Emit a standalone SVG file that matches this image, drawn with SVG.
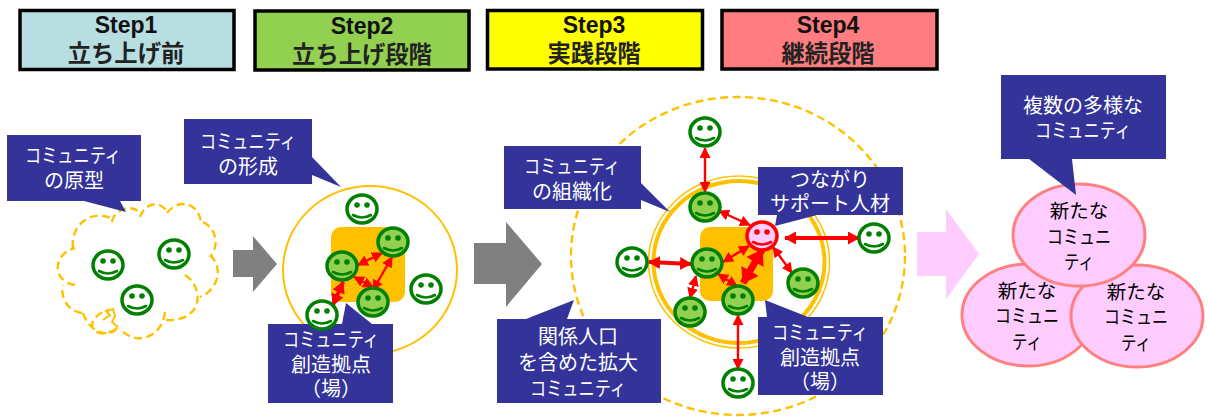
<svg xmlns="http://www.w3.org/2000/svg" xmlns:xlink="http://www.w3.org/1999/xlink" width="1208" height="417" viewBox="0 0 1208 417">
<style>
text{font-family:"Noto Sans CJK JP","Liberation Sans",sans-serif;text-anchor:middle}
.step{stroke:#000;stroke-width:3.5}
.st1{font-family:"Liberation Sans",Arial,sans-serif;font-weight:700;font-size:23px;fill:#111}
.st2{font-size:23.3px;font-weight:700;fill:#222}
.call{fill:#333399}
.ct{fill:#fff;font-size:20px}
.et{fill:#000;font-size:19.5px}
.ell{fill:#FFCCFF;stroke:#FF8080;stroke-width:3}
.dash{fill:none;stroke:#FFC000;stroke-width:2.4;stroke-dasharray:8 4.5}
.a{stroke:#FF0000;stroke-width:2.4;fill:none;marker-start:url(#ah);marker-end:url(#ah)}
.f{stroke:#FF0000;stroke-width:4;fill:none;marker-start:url(#af);marker-end:url(#af)}
.g{stroke:#FF0000;stroke-width:7;fill:none;marker-start:url(#ag);marker-end:url(#ag)}
</style>
<defs>
<marker id="ah" markerUnits="userSpaceOnUse" markerWidth="11" markerHeight="11" refX="10" refY="5.500" orient="auto-start-reverse"><path d="M0 0L11 5.500L0 11Z" fill="#FF0000"/></marker>
<marker id="af" markerUnits="userSpaceOnUse" markerWidth="12" markerHeight="13" refX="11" refY="6.500" orient="auto-start-reverse"><path d="M0 0L12 6.500L0 13Z" fill="#FF0000"/></marker>
<marker id="ag" markerUnits="userSpaceOnUse" markerWidth="15" markerHeight="20" refX="14" refY="10" orient="auto-start-reverse"><path d="M0 0L15 10L0 20Z" fill="#FF0000"/></marker>
<g id="face">
<ellipse rx="15" ry="14" stroke="#008000" stroke-width="3.500"/>
<circle cx="-5" cy="-4" r="2.800" fill="#008000"/><circle cx="5" cy="-4" r="2.800" fill="#008000"/>
<path d="M-9 6Q0 11 9 6" fill="none" stroke="#008000" stroke-width="2.600" stroke-linecap="round"/>
</g>
</defs>
<rect width="1208" height="417" fill="#fff"/>

<g id="step1"><rect class="step" x="20" y="10.500" width="214" height="59" fill="#B7DEE1"/><text class="st1" x="126" y="33">Step1</text><text class="st2" x="126" y="62">立ち上げ前</text></g>
<g id="step2"><rect class="step" x="255" y="11" width="214" height="59" fill="#92D050"/><text class="st1" x="362" y="34">Step2</text><text class="st2" x="362" y="63">立ち上げ段階</text></g>
<g id="step3"><rect class="step" x="487.500" y="10.500" width="215" height="58.500" fill="#FFFF00"/><text class="st1" x="594" y="33">Step3</text><text class="st2" x="594" y="62">実践段階</text></g>
<g id="step4"><rect class="step" x="722" y="10.500" width="215" height="58.500" fill="#FF7C80"/><text class="st1" x="828" y="33">Step4</text><text class="st2" x="828" y="62">継続段階</text></g>

<g id="cloud">
<path class="dash" d="M73 248C70 225 92 208 113 219M112 222C114 208 134 203 142 215M140 217C145 203 160 199 168 213M167 213C178 198 199 202 201 223M203 222C216 228 220 245 210 257M210 255C224 268 218 290 200 297M185 275C205 288 203 322 166 320M165 312C162 340 132 346 120 328M83 313C88 332 112 340 117 327C122 325 104 340 94 330C88 322 98 312 110 310M82 313C68 311 60 298 63 285M75 285C52 282 52 254 75 248"/>
<path d="M103 320L110 315L106 311L113 309L115 316L112 322L118 327" fill="none" stroke="#FFC000" stroke-width="2"/>
</g>
<g id="arrow-gray1"><path d="M233 250H253V236L277 264L253 292V277H233Z" fill="#808080"/></g>
<g id="ring1"><ellipse cx="370" cy="270" rx="87" ry="84" fill="none" stroke="#FFC000" stroke-width="2"/><rect x="331" y="227" width="74" height="75" rx="10" fill="#FFC000"/></g>
<g id="arrow-gray2"><path d="M474 243H506V222L542 264L506 307V284H474Z" fill="#808080"/></g>
<g id="ring3"><ellipse class="dash" cx="738" cy="256" rx="167" ry="159"/>
<ellipse cx="739" cy="262" rx="90.500" ry="86" fill="none" stroke="#FFC000" stroke-width="1.500"/>
<ellipse cx="739" cy="262" rx="85.500" ry="81" fill="none" stroke="#FFC000" stroke-width="4"/>
<rect x="700" y="227" width="73" height="74" rx="10" fill="#FFC000"/></g>
<g id="arrow-pink"><path d="M917 232H946V209L979 254L946 299V276H917Z" fill="#FFCCFF"/></g>

<g id="connectors">
<line class="a" x1="358" y1="265" x2="382" y2="253"/>
<line class="a" x1="392" y1="257" x2="373" y2="290"/>
<line class="a" x1="354" y1="277" x2="373" y2="287"/>
<line class="f" x1="333" y1="305" x2="343" y2="282"/>
<line class="a" x1="705" y1="148" x2="705" y2="192"/>
<line class="a" x1="719" y1="211" x2="750" y2="225"/>
<line class="f" x1="785" y1="238" x2="859" y2="238"/>
<line class="f" x1="649" y1="262" x2="691" y2="264"/>
<line class="a" x1="723" y1="262" x2="749" y2="246"/>
<line class="g" x1="762" y1="250" x2="743" y2="283"/>
<line class="a" x1="718" y1="274" x2="737" y2="286"/>
<line class="a" x1="773" y1="247" x2="792" y2="273"/>
<line class="a" x1="696" y1="276" x2="690" y2="298"/>
<line class="a" x1="738" y1="315" x2="738" y2="369"/>
</g>

<g id="faces-white" fill="#fff">
<use xlink:href="#face" x="108" y="265"/><use xlink:href="#face" x="174" y="254"/><use xlink:href="#face" x="137" y="300"/>
<use xlink:href="#face" x="362" y="209"/><use xlink:href="#face" x="426" y="289"/>
<use xlink:href="#face" x="705" y="132"/><use xlink:href="#face" x="874" y="238"/><use xlink:href="#face" x="632" y="262"/><use xlink:href="#face" x="738" y="383"/>
</g>
<g id="faces-green" fill="#92D050">
<use xlink:href="#face" x="393" y="242"/><use xlink:href="#face" x="342" y="266"/><use xlink:href="#face" x="373" y="302"/>
<use xlink:href="#face" x="705" y="207"/><use xlink:href="#face" x="707" y="263"/><use xlink:href="#face" x="803" y="283"/><use xlink:href="#face" x="738" y="300"/><use xlink:href="#face" x="690" y="312"/>
</g>
<g id="face-pink"><ellipse cx="762" cy="236" rx="15" ry="14" fill="#FFCCFF" stroke="#FF0000" stroke-width="3.500"/><circle cx="757" cy="232" r="2.800" fill="#FF0000"/><circle cx="767" cy="232" r="2.800" fill="#FF0000"/><path d="M753 242Q762 247 771 242" fill="none" stroke="#FF0000" stroke-width="2.600" stroke-linecap="round"/></g>

<g id="callout1"><path class="call" d="M7 135H141V201H120L126 212L84 201H7Z"/><text class="ct" x="73" y="163" textLength="96" lengthAdjust="spacingAndGlyphs">コミュニティ</text><text class="ct" x="74" y="188">の原型</text></g>
<g id="callout2"><path class="call" d="M184 119H312V157L341 187L312 175V184H184Z"/><text class="ct" x="248" y="149" textLength="96" lengthAdjust="spacingAndGlyphs">コミュニティ</text><text class="ct" x="248" y="174">の形成</text></g>
<g id="callout3"><path class="call" d="M268 324H342L346 303L372 324H393V403H268Z"/><text class="ct" x="331" y="347" textLength="96" lengthAdjust="spacingAndGlyphs">コミュニティ</text><text class="ct" x="331" y="372">創造拠点</text><text class="ct" x="331" y="396">（場）</text></g>
<g id="face-over-callout" fill="#fff"><use xlink:href="#face" x="322" y="315"/></g>
<g id="callout4"><path class="call" d="M504 146H641V183L670 212L641 200V209H504Z"/><text class="ct" x="572" y="174" textLength="96" lengthAdjust="spacingAndGlyphs">コミュニティ</text><text class="ct" x="572" y="199">の組織化</text></g>
<g id="callout5"><path class="call" d="M497 319H526L574 300L567 319H661V403H497Z"/><text class="ct" x="578" y="344">関係人口</text><text class="ct" x="578" y="370">を含めた拡大</text><text class="ct" x="578" y="396" textLength="96" lengthAdjust="spacingAndGlyphs">コミュニティ</text></g>
<g id="callout6"><path class="call" d="M758 317H767L765 300L808 317H883V395H758Z"/><text class="ct" x="820" y="340" textLength="96" lengthAdjust="spacingAndGlyphs">コミュニティ</text><text class="ct" x="820" y="365">創造拠点</text><text class="ct" x="820" y="389">（場）</text></g>
<g id="callout7"><path class="call" d="M758 167H903V215H817L775 226L777 215H758Z"/><text class="ct" x="830" y="187">つながり</text><text class="ct" x="830" y="211">サポート人材</text></g>

<g id="ellipse-left"><ellipse class="ell" cx="1028" cy="315" rx="66" ry="51"/><text class="et" x="1027" y="298">新たな</text><text class="et" x="1027" y="323" textLength="64" lengthAdjust="spacingAndGlyphs">コミュニ</text><text class="et" x="1027" y="349" textLength="30" lengthAdjust="spacingAndGlyphs">ティ</text></g>
<g id="ellipse-right"><ellipse class="ell" cx="1137" cy="316" rx="66" ry="51"/><text class="et" x="1136" y="299">新たな</text><text class="et" x="1136" y="324" textLength="64" lengthAdjust="spacingAndGlyphs">コミュニ</text><text class="et" x="1136" y="350" textLength="30" lengthAdjust="spacingAndGlyphs">ティ</text></g>
<g id="ellipse-top"><ellipse class="ell" cx="1079" cy="235" rx="66" ry="51"/><text class="et" x="1079" y="218">新たな</text><text class="et" x="1079" y="244" textLength="64" lengthAdjust="spacingAndGlyphs">コミュニ</text><text class="et" x="1079" y="269" textLength="30" lengthAdjust="spacingAndGlyphs">ティ</text></g>
<g id="callout8"><path class="call" d="M1001 75H1166V159H1072L1076 195L1029 159H1001Z"/><text class="ct" x="1083" y="113">複数の多様な</text><text class="ct" x="1083" y="138" textLength="96" lengthAdjust="spacingAndGlyphs">コミュニティ</text></g>
</svg>
